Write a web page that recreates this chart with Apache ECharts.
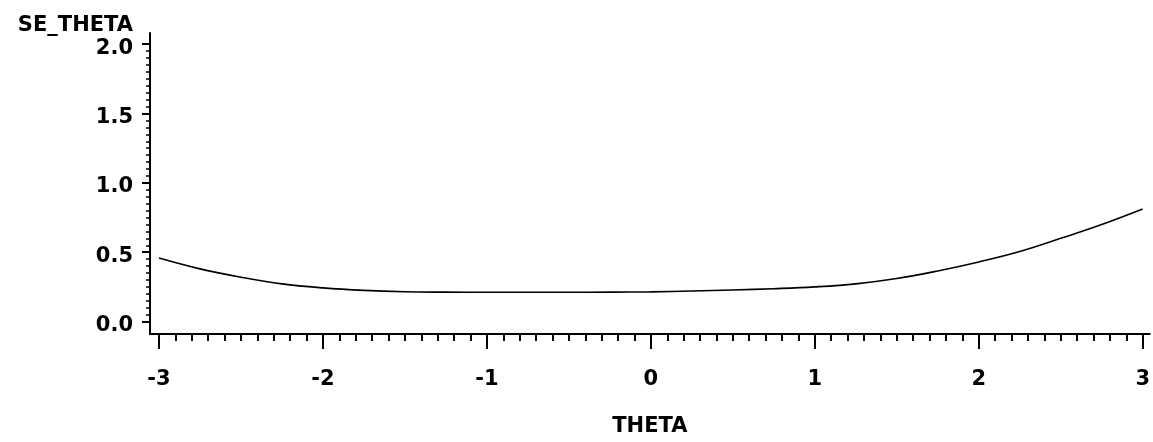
<!DOCTYPE html>
<html>
<head>
<meta charset="utf-8">
<script src="https://cdn.jsdelivr.net/npm/echarts@6/dist/echarts.min.js"></script>
<style>
html,body{margin:0;padding:0;background:#fff;}
#chart{width:1153px;height:442px;}
</style>
</head>
<body>
<div id="chart"></div>
<script>
// Data
var theta = [-3.00,-2.75,-2.50,-2.25,-2.00,-1.75,-1.50,-1.25,-1.00,-0.75,-0.50,-0.25,0.00,
             0.25,0.50,0.75,1.00,1.25,1.50,1.75,2.00,2.25,2.50,2.75,3.00];
var seTheta = [0.458,0.380,0.320,0.272,0.243,0.225,0.215,0.212,0.211,0.211,0.211,0.212,0.214,
               0.220,0.228,0.237,0.250,0.272,0.310,0.365,0.430,0.505,0.600,0.700,0.812];
var xTicks = [-3,-2,-1,0,1,2,3];
var yTicks = [0.0,0.5,1.0,1.5,2.0];
var xName = 'THETA';
var yName = 'SE_THETA';

var xMinorTicks = [];
for (var i = 0; i < xTicks.length - 1; i++) {
  for (var k = 1; k < 10; k++) xMinorTicks.push(+(xTicks[i] + k * (xTicks[i+1]-xTicks[i]) / 10).toFixed(3));
}
var yMinorTicks = [];
for (var j = 0; j < yTicks.length - 1; j++) {
  for (var m = 1; m < 10; m++) yMinorTicks.push(+(yTicks[j] + m * (yTicks[j+1]-yTicks[j]) / 10).toFixed(4));
}

var FONT = 'DejaVu Sans';
var FS = 21;
var X_MIN = -3.055, X_MAX = 3.043;
var Y_MIN = -0.0898, Y_MAX = 2.081;

var chart = echarts.init(document.getElementById('chart'));
chart.setOption({
  animation: false,
  backgroundColor: '#fff',
  grid: {left: 150, right: 3, top: 33, bottom: 102, containLabel: false},
  xAxis: [{
    type: 'value', min: X_MIN, max: X_MAX,
    name: xName, nameLocation: 'middle', nameGap: 82,
    nameTextStyle: {fontFamily: FONT, fontWeight: 'bold', fontSize: FS, color: '#000'},
    axisLine: {show: true, onZero: false, lineStyle: {color: '#000', width: 2}},
    axisTick: {show: true, customValues: xTicks, length: 15, lineStyle: {color: '#000', width: 2}},
    axisLabel: {show: true, customValues: xTicks, margin: 35, fontFamily: FONT, fontWeight: 'bold', fontSize: FS, color: '#000',
      formatter: function (v) { return String(Math.round(v)); }},
    splitLine: {show: false}
  }, {
    type: 'value', min: X_MIN, max: X_MAX, position: 'bottom',
    axisLine: {show: false, onZero: false},
    axisTick: {show: true, customValues: xMinorTicks, length: 7, lineStyle: {color: '#000', width: 2}},
    axisLabel: {show: false},
    splitLine: {show: false}
  }],
  yAxis: [{
    type: 'value', min: Y_MIN, max: Y_MAX,
    name: yName, nameLocation: 'end', nameGap: 7,
    nameTextStyle: {fontFamily: FONT, fontWeight: 'bold', fontSize: FS, color: '#000', align: 'right', verticalAlign: 'middle', padding: [0, 17, 0, 0]},
    axisLine: {show: true, onZero: false, lineStyle: {color: '#000', width: 2}},
    axisTick: {show: true, customValues: yTicks, length: 8, lineStyle: {color: '#000', width: 2}},
    axisLabel: {show: true, customValues: yTicks, margin: 17, color: '#000',
      formatter: function (v) { return '{a|' + v.toFixed(1) + '}'; },
      rich: {a: {fontFamily: FONT, fontWeight: 'bold', fontSize: FS, color: '#000', padding: [8, 0, 0, 0]}}},
    splitLine: {show: false}
  }, {
    type: 'value', min: Y_MIN, max: Y_MAX, position: 'left',
    axisLine: {show: false, onZero: false},
    axisTick: {show: true, customValues: yMinorTicks, length: 4, lineStyle: {color: '#000', width: 1.5}},
    axisLabel: {show: false},
    splitLine: {show: false}
  }],
  series: [{
    type: 'line',
    xAxisIndex: 0, yAxisIndex: 0,
    data: theta.map(function (t, i) { return [t, seTheta[i]]; }),
    showSymbol: false, smooth: 0.4,
    lineStyle: {color: '#000', width: 1.6}
  }]
});
</script>
</body>
</html>
